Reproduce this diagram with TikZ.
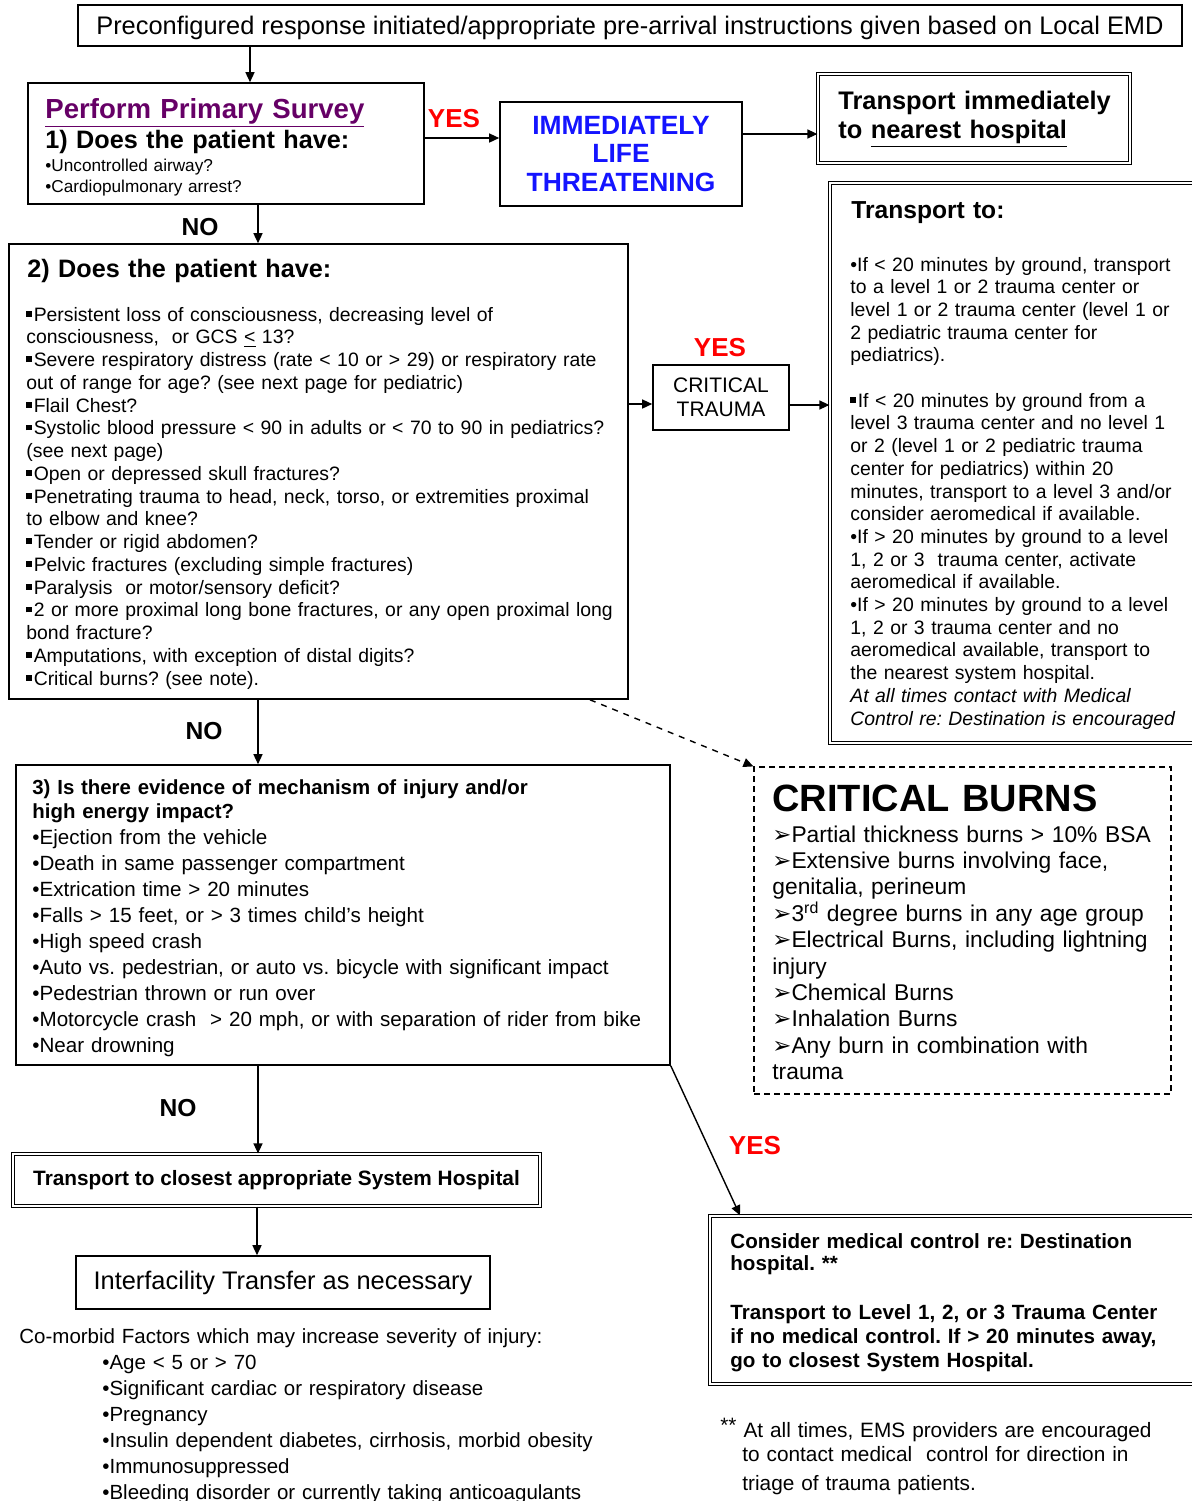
\documentclass[tikz,border=0pt]{standalone}
\usepackage{fontspec}
\setmainfont{Liberation Sans}
\newfontfamily\symf{DejaVu Sans}
\usetikzlibrary{fit}
\usetikzlibrary{arrows.meta}
\definecolor{surveypurple}{RGB}{102,0,102}
\definecolor{lifeblue}{RGB}{20,20,255}
\definecolor{yesred}{RGB}{255,0,0}
\newcommand{\fs}[2]{\fontsize{#1}{#2}\selectfont} % size, line skip in pt
\newcommand{\sqb}{\rule[0.22em]{0.3em}{0.3em}\hspace{0.08em}} % square bullet
\newcommand{\chev}{{\symf ➢}} % arrow bullet
\frenchspacing

\begin{document}
\begin{tikzpicture}[x=0.5pt, y=-0.5pt,
	box/.style={draw, line width=0.8pt, inner sep=0pt},
	dblbox/.style={draw, double, line width=0.6pt, double distance=1pt, inner sep=0pt},
	dashbox/.style={draw, dash pattern=on 3pt off 2pt, line width=0.6pt, inner sep=0pt},
	txt/.style={anchor=base west, inner sep=0pt, align=left, text width=330pt},
	ctxt/.style={anchor=center, inner sep=0pt, align=center},
	arr/.style={-{Triangle[length=5pt,width=4.5pt]}, line width=0.7pt},
	yeslbl/.style={anchor=base, inner sep=0pt, text=yesred, font=\bfseries\fs{13}{15}},
	nolbl/.style={anchor=base, inner sep=0pt, font=\bfseries\fs{12.3}{14}}]
	% page: 1192 x 1501 px, 1 px = 0.5pt
	\useasboundingbox (0,0) rectangle (1192,1501);

	% dispatch
	\node[box, fit={(78,5) (1182,46)}] (emd) {};
	\node[ctxt, font=\fs{12.7}{15}] (emdt) at ([yshift=-1pt]emd.center) {Preconfigured response initiated/appropriate pre-arrival instructions given based on Local EMD};

	% 1) primary survey
	\node[box, fit={(28,83) (424,204)}] (survey) {};
	\node[txt, text=surveypurple, font=\bfseries\fs{13.8}{16}] (surveyttl) at (45,118) {\underline{Perform Primary Survey}};
	\node[txt, font=\bfseries\fs{12.6}{15}] (surveyq) at (45,148) {1) Does the patient have:};
	\node[txt, font=\fs{8.6}{10.5}] (surveyl) at (45,171) {•Uncontrolled airway?\\•Cardiopulmonary arrest?};
	\node[yeslbl] (yes1) at (454,127) {YES};
	\node[box, fit={(500,102) (742,206)}] (life) {};
	\node[ctxt, text=lifeblue, font=\bfseries\fs{13.2}{14.25}] (lifet) at (life.center) {IMMEDIATELY\\LIFE\\THREATENING};
	\node[dblbox, fit={(818,74) (1130,163)}] (nearest) {};
	\node[txt, font=\bfseries\fs{12.7}{14.5}] (nearestt) at (838,109) {Transport immediately\\to \underline{nearest hospital}};

	% destination rules
	\node[dblbox, fit={(830,183) (1200,743)}] (dest) {};
	\node[txt, font=\bfseries\fs{12.3}{14}] (destttl) at (851,218) {Transport to:};
	\node[txt, font=\fs{9.7}{11.35}] (destl) at (850,271) {•If < 20 minutes by ground, transport\\
to a level 1 or 2 trauma center or\\
level 1 or 2 trauma center (level 1 or\\
2 pediatric trauma center for\\
pediatrics).\\[11.35pt]
\sqb If < 20 minutes by ground from a\\
level 3 trauma center and no level 1\\
or 2 (level 1 or 2 pediatric trauma\\
center for pediatrics) within 20\\
minutes, transport to a level 3 and/or\\
consider aeromedical if available.\\
•If > 20 minutes by ground to a level\\
1, 2 or 3\ \ trauma center, activate\\
aeromedical if available.\\
•If > 20 minutes by ground to a level\\
1, 2 or 3 trauma center and no\\
aeromedical available, transport to\\
the nearest system hospital.\\
\textit{At all times contact with Medical}\\
\textit{Control re: Destination is encouraged}};

	% 2) physiologic / anatomic criteria
	\node[box, fit={(9,244) (628,699)}] (q2) {};
	\node[txt, font=\bfseries\fs{12.6}{15}] (q2ttl) at (27,277) {2) Does the patient have:};
	\node[txt, font=\fs{9.7}{11.375}] (q2l) at (26,321) {\sqb Persistent loss of consciousness, decreasing level of\\
consciousness,\ \ or GCS \underline{<} 13?\\
\sqb Severe respiratory distress (rate < 10 or > 29) or respiratory rate\\
out of range for age? (see next page for pediatric)\\
\sqb Flail Chest?\\
\sqb Systolic blood pressure < 90 in adults or < 70 to 90 in pediatrics?\\
(see next page)\\
\sqb Open or depressed skull fractures?\\
\sqb Penetrating trauma to head, neck, torso, or extremities proximal\\
to elbow and knee?\\
\sqb Tender or rigid abdomen?\\
\sqb Pelvic fractures (excluding simple fractures)\\
\sqb Paralysis\ \ or motor/sensory deficit?\\
\sqb 2 or more proximal long bone fractures, or any open proximal long\\
bond fracture?\\
\sqb Amputations, with exception of distal digits?\\
\sqb Critical burns? (see note).};
	\node[yeslbl] (yes2) at (720,356) {YES};
	\node[box, fit={(653,365) (789,430)}] (crit) {};
	\node[ctxt, font=\fs{10.5}{12}] (critt) at (crit.center) {CRITICAL\\TRAUMA};

	% 3) mechanism of injury
	\node[box, fit={(16,765) (670,1065)}] (q3) {};
	\node[txt, font=\bfseries\fs{10.2}{12}] (q3ttl) at (32,794) {3) Is there evidence of mechanism of injury and/or\\high energy impact?};
	\node[txt, font=\fs{10.3}{13}] (q3l) at (32,844) {•Ejection from the vehicle\\
•Death in same passenger compartment\\
•Extrication time > 20 minutes\\
•Falls > 15 feet, or > 3 times child’s height\\
•High speed crash\\
•Auto vs. pedestrian, or auto vs. bicycle with significant impact\\
•Pedestrian thrown or run over\\
•Motorcycle crash\ \ > 20 mph, or with separation of rider from bike\\
•Near drowning};

	% critical burns note
	\node[dashbox, fit={(754,767) (1171,1094)}] (burns) {};
	\node[txt, font=\bfseries\fs{19}{22}] (burnsttl) at (772,811) {CRITICAL BURNS};
	\node[txt, font=\fs{11.4}{13.2}] (burnsl) at (772,842) {\chev Partial thickness burns > 10\% BSA\\
\chev Extensive burns involving face,\\
genitalia, perineum\\
\chev 3\textsuperscript{rd} degree burns in any age group\\
\chev Electrical Burns, including lightning\\
injury\\
\chev Chemical Burns\\
\chev Inhalation Burns\\
\chev Any burn in combination with\\
trauma};

	% no: system hospital
	\node[dblbox, fit={(13,1154) (540,1206)}] (closest) {};
	\node[ctxt, font=\bfseries\fs{10.4}{12}] (closestt) at (closest.center) {Transport to closest appropriate System Hospital};
	\node[box, fit={(76,1256) (490,1309)}] (inter) {};
	\node[ctxt, font=\fs{12.7}{15}] (intert) at (inter.center) {Interfacility Transfer as necessary};
	\node[txt, font=\fs{10.25}{13}] (comorb) at (19,1343) {Co-morbid Factors which may increase severity of injury:};
	\node[txt, font=\fs{10.25}{13}] (comorbl) at (102,1369) {•Age < 5 or > 70\\
•Significant cardiac or respiratory disease\\
•Pregnancy\\
•Insulin dependent diabetes, cirrhosis, morbid obesity\\
•Immunosuppressed\\
•Bleeding disorder or currently taking anticoagulants};

	% yes: medical control
	\node[yeslbl] (yes3) at (755,1154) {YES};
	\node[dblbox, fit={(710,1216) (1200,1384)}] (medctl) {};
	\node[txt, font=\bfseries\fs{10.3}{11}] (medctla) at (730,1248) {Consider medical control re: Destination\\hospital. **};
	\node[txt, font=\bfseries\fs{10.3}{12}] (medctlb) at (730,1319) {Transport to Level 1, 2, or 3 Trauma Center\\if no medical control. If > 20 minutes away,\\go to closest System Hospital.};
	\node[txt, font=\fs{10.4}{12}] (note) at (720,1437) {\raisebox{2.5pt}{**} At all times, EMS providers are encouraged\\
\hspace*{11pt}to contact medical\ \ control for direction in\\[2.5pt]
\hspace*{11pt}triage of trauma patients.};

	% decision labels
	\node[nolbl] (no1) at (200,235) {NO};
	\node[nolbl] (no2) at (204,739) {NO};
	\node[nolbl] (no3) at (178,1116) {NO};

	% connectors
	\draw[arr] (emd.south -| 250,0) -- (survey.north -| 250,0);
	\draw[arr] (survey.east |- 0,138) -- (life.west |- 0,138);
	\draw[arr] (life.east |- 0,134) -- (nearest.west |- 0,134);
	\draw[arr] (survey.south -| 258,0) -- (q2.north -| 258,0);
	\draw[arr] (q2.east |- 0,404) -- (crit.west |- 0,404);
	\draw[arr] (crit.east |- 0,405) -- (dest.west |- 0,405);
	\draw[arr] (q2.south -| 258,0) -- (q3.north -| 258,0);
	\draw[arr, dashed] (q2.south -| 590,0) -- (burns.north west);
	\draw[arr] (q3.south -| 258,0) -- (closest.north -| 258,0);
	\draw[arr] (q3.south east) -- (medctl.north -| 740,0);
	\draw[arr] (closest.south -| 257,0) -- (inter.north -| 257,0);
\end{tikzpicture}
\end{document}
